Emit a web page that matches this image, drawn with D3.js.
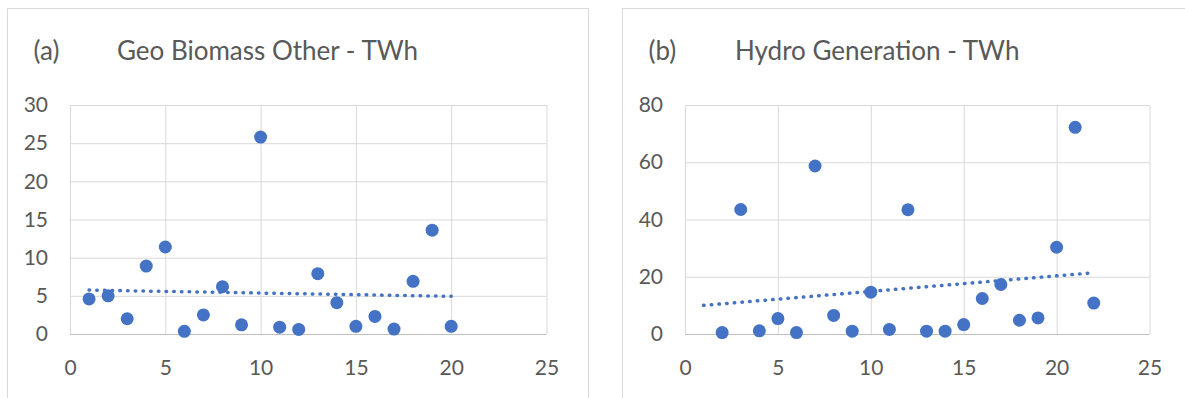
<!DOCTYPE html>
<html>
<head>
<meta charset="utf-8">
<script src="https://cdn.jsdelivr.net/npm/d3@7"></script>
<style>
	body { margin: 0; background: #fff; }
	svg { display: block; }
	text { font-family: Lato, "Open Sans", sans-serif; fill: #595959; }
</style>
</head>
<body>
<svg id="chart"></svg>
<script>
// tick labels
const xTicks = [0, 5, 10, 15, 20, 25];
const yTicksA = [0, 5, 10, 15, 20, 25, 30];
const yTicksB = [0, 20, 40, 60, 80];

// (a) Geo Biomass Other - TWh
const xA = [1, 2, 3, 4, 5, 6, 7, 8, 9, 10, 11, 12, 13, 14, 15, 16, 17, 18, 19, 20];
const yA = [4.6, 5.0, 2.0, 8.9, 11.4, 0.35, 2.5, 6.2, 1.2, 25.8, 0.9, 0.6, 7.9, 4.1, 1.0, 2.3, 0.65, 6.9, 13.6, 1.0];

// (b) Hydro Generation - TWh  (x = 1 has no value)
const xB = [1, 2, 3, 4, 5, 6, 7, 8, 9, 10, 11, 12, 13, 14, 15, 16, 17, 18, 19, 20, 21, 22];
const yB = [null, 0.5, 43.5, 1.1, 5.4, 0.5, 58.7, 6.5, 1.0, 14.6, 1.6, 43.4, 1.0, 1.0, 3.3, 12.4, 17.3, 4.8, 5.6, 30.3, 72.2, 10.8];

const width = 1185;
const height = 398;
const COLOR = "#4472C4";

const svg = d3.select("#chart")
              .attr("width", width)
              .attr("height", height);

panel({ tag: "(a)", title: "Geo Biomass Other - TWh", X: xA, Y: yA, yTicks: yTicksA,
        box: [7.5, 8.5, 588.5], plot: [70, 546.5, 105, 334], titleX: 117 });
panel({ tag: "(b)", title: "Hydro Generation - TWh", X: xB, Y: yB, yTicks: yTicksB,
        box: [622.5, 8.5, width + 5], plot: [685, 1149.5, 105, 334], titleX: 735 });

function panel({ tag, title, X, Y, yTicks, box, plot, titleX }) {
	const [bl, bt, br] = box;
	const [x0, x1, y0, y1] = plot;

	const g = svg.append("g");

	// chart border
	g.append("path")
	 .attr("d", `M${bl},${height + 5}V${bt}H${br}V${height + 5}`)
	 .attr("fill", "none")
	 .attr("stroke", "#d9d9d9");

	const xScale = d3.scaleLinear([0, d3.max(xTicks)], [x0, x1]);
	const yScale = d3.scaleLinear([0, d3.max(yTicks)], [y1, y0]);

	// grid
	g.append("g")
	 .attr("transform", `translate(0, ${y1})`)
	 .call(d3.axisBottom(xScale).tickValues(xTicks).tickSize(-(y1 - y0)).tickFormat(""))
	 .call(a => a.select(".domain").remove())
	 .call(a => a.selectAll(".tick line").attr("stroke", "#d9d9d9"));
	g.append("g")
	 .attr("transform", `translate(${x0}, 0)`)
	 .call(d3.axisLeft(yScale).tickValues(yTicks).tickSize(-(x1 - x0)).tickFormat(""))
	 .call(a => a.select(".domain").remove())
	 .call(a => a.selectAll(".tick line").attr("stroke", (d) => d === 0 ? "#bfbfbf" : "#d9d9d9"));

	// labels
	g.append("g")
	 .attr("transform", `translate(0, ${y1})`)
	 .call(d3.axisBottom(xScale).tickValues(xTicks).tickSize(0).tickPadding(26))
	 .call(a => a.select(".domain").remove())
	 .call(a => a.selectAll("text").attr("font-size", 21).attr("font-family", null).attr("fill", null));
	g.append("g")
	 .attr("transform", `translate(${x0}, 0)`)
	 .call(d3.axisLeft(yScale).tickValues(yTicks).tickSize(0).tickPadding(22))
	 .call(a => a.select(".domain").remove())
	 .call(a => a.selectAll("text").attr("font-size", 21).attr("font-family", null).attr("fill", null));

	// title
	g.append("text").attr("x", bl + 26).attr("y", 60).attr("font-size", 26).text(tag);
	g.append("text").attr("x", titleX).attr("y", 60).attr("font-size", 26).text(title);

	// linear trendline (least squares over the points with values)
	const I = d3.range(X.length).filter(i => Y[i] != null);
	const mx = d3.mean(I, i => X[i]);
	const my = d3.mean(I, i => Y[i]);
	const slope = d3.sum(I, i => (X[i] - mx) * (Y[i] - my)) / d3.sum(I, i => (X[i] - mx) ** 2);
	const fit = (x) => my + slope * (x - mx);
	const ext = d3.extent(X);

	g.append("path")
	 .attr("d", d3.line()(ext.map(x => [xScale(x), yScale(fit(x))])))
	 .attr("fill", "none")
	 .attr("stroke", COLOR)
	 .attr("stroke-width", 3.5)
	 .attr("stroke-linecap", "round")
	 .attr("stroke-dasharray", "0.5 7.2");

	// points
	g.append("g")
	 .selectAll("circle")
	 .data(I)
	 .join("circle")
	 .attr("cx", i => xScale(X[i]))
	 .attr("cy", i => yScale(Y[i]))
	 .attr("r", 6.5)
	 .attr("fill", COLOR);
}
</script>
</body>
</html>
